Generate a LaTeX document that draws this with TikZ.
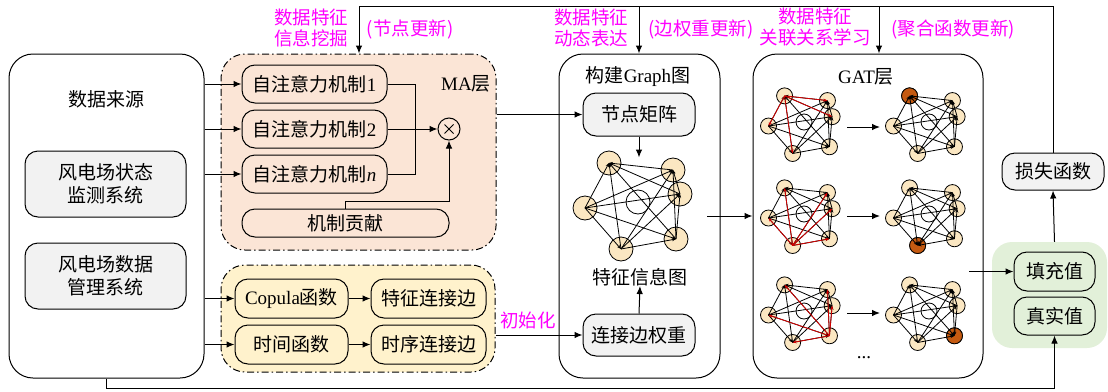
\documentclass[tikz,border=0pt]{standalone}
\usepackage{fontspec}
\setmainfont{Liberation Serif}
\newfontfamily\cjk{Noto Sans CJK SC}
\newfontfamily\lat{Liberation Serif}
\usetikzlibrary{arrows.meta}
\definecolor{peach}{HTML}{FBE5D6}
\definecolor{yel}{HTML}{FFF2CC}
\definecolor{grn}{HTML}{E2F0D9}
\definecolor{gry}{HTML}{F2F2F2}
\definecolor{cream}{HTML}{FBE7C2}
\definecolor{brn}{HTML}{C55A11}
\definecolor{redl}{HTML}{D40000}
\definecolor{mag}{HTML}{FF00FF}
\newcommand\txt{\cjk\fontsize{19}{23}\selectfont}
\newcommand\mtxt{\cjk\fontsize{18.5}{21}\selectfont}
\newcommand\mkgraph[4]{%
  \begin{scope}[shift={#2},scale=#3]
    \coordinate (#1-1) at (-29,-39);
    \coordinate (#1-2) at (35,-32);
    \coordinate (#1-3) at (42,-8);
    \coordinate (#1-4) at (38,37);
    \coordinate (#1-5) at (-17,47);
    \coordinate (#1-6) at (-53,6);
    \coordinate (#1-7) at (0,0);
  \end{scope}
  \foreach \k in {1,...,6} \draw[gnode] (#1-\k) circle[radius=#4];
  \draw[gnode,fill=white] (#1-7) circle[radius=#4];
}
\newcommand\mkedges[2]{%
  \foreach \i in {1,...,6}{\foreach \j in {1,...,6}{%
    \ifnum\i<\j
      \ifnum\j=#2 \draw[gedge] (#1-\i) -- (#1-\j);
      \else \draw[gedge] (#1-\j) -- (#1-\i); \fi
    \fi}}%
}
\newcommand\mkred[3]{%
  \foreach \k in {#3} \draw[gedge,draw=redl,fill=redl] (#1-#2) -- (#1-\k);
}
\begin{document}
\begin{tikzpicture}[x=1pt,y=-1pt,
  rb/.style={draw,line width=1pt,rounded corners=13pt,inner sep=0pt,align=center,font=\txt},
  bg/.style={rounded corners=24pt,inner sep=0pt},
  dd/.style={draw,line width=1pt,dash pattern=on 7pt off 3pt on 1.5pt off 3pt},
  lbl/.style={font=\txt,inner sep=0pt,align=center},
  magl/.style={font=\mtxt,text=mag,inner sep=0pt,align=center},
  ln/.style={line width=1pt},
  arr/.style={line width=1pt,-{Latex[length=8pt,width=6.5pt]}},
  gnode/.style={draw,line width=0.8pt,fill=cream},
  gedge/.style={line width=0.8pt,-{Stealth[length=4pt,width=3pt]}}]
\useasboundingbox (0,0) rectangle (1108,391);

% ---------- source box ----------
\node[draw,line width=1pt,bg,minimum width=195pt,minimum height=324pt] (src) at (106.5,216) {};
\node[lbl] (srct) at (106,99) {数据来源};
\node[rb,fill=gry,minimum width=161pt,minimum height=66pt] (sys1) at (105.5,184) {风电场状态\\监测系统};
\node[rb,fill=gry,minimum width=161pt,minimum height=66pt] (sys2) at (105.5,276) {风电场数据\\管理系统};

% ---------- MA layer ----------
\node[bg,fill=peach,dd,minimum width=275pt,minimum height=196pt] (ma) at (358.5,152) {};
\node[rb,fill=peach,minimum width=145pt,minimum height=38pt] (sa1) at (314.5,84) {自注意力机制{\lat 1}};
\node[rb,fill=peach,minimum width=145pt,minimum height=38pt] (sa2) at (314.5,129) {自注意力机制{\lat 2}};
\node[rb,fill=peach,minimum width=145pt,minimum height=38pt] (san) at (314.5,174) {自注意力机制{\lat\itshape n}};
\node[rb,fill=peach,minimum width=207pt,minimum height=28pt] (mc) at (345.5,223) {机制贡献};
\node[draw,circle,line width=1pt,minimum size=22pt,inner sep=0pt,fill=peach] (ot) at (449,129) {};
\draw[line width=0.9pt] ([shift={(-4.5,-4.5)}]ot.center) -- ([shift={(4.5,4.5)}]ot.center)
  ([shift={(-4.5,4.5)}]ot.center) -- ([shift={(4.5,-4.5)}]ot.center);
\node[lbl] (mat) at (466,84) {{\lat MA}层};

% ---------- init layer ----------
\node[bg,fill=yel,dd,minimum width=274pt,minimum height=107pt] (yb) at (358,318.5) {};
\node[rb,fill=yel,minimum width=113pt,minimum height=39pt] (cop) at (291.5,298.5) {{\lat Copula}函数};
\node[rb,fill=yel,minimum width=115pt,minimum height=39pt] (fe) at (428.5,298.5) {特征连接边};
\node[rb,fill=yel,minimum width=113pt,minimum height=39pt] (tf) at (291.5,344.5) {时间函数};
\node[rb,fill=yel,minimum width=115pt,minimum height=39pt] (se) at (428.5,344.5) {时序连接边};

% ---------- graph box ----------
\node[draw,line width=1pt,bg,minimum width=161pt,minimum height=324pt] (gb) at (639.5,216) {};
\node[lbl] (gbt) at (638,77) {构建{\lat Graph}图};
\node[rb,fill=gry,minimum width=112pt,minimum height=43pt] (nm) at (639,114.5) {节点矩阵};
\node[lbl] (fig) at (640,277) {特征信息图};
\node[rb,fill=gry,minimum width=112pt,minimum height=42pt] (ew) at (639,335) {连接边权重};
\mkgraph{g0}{(638,202)}{1}{12}
\mkedges{g0}{0}

% ---------- GAT box ----------
\node[draw,line width=1pt,bg,minimum width=230pt,minimum height=324pt] (gat) at (868,216) {};
\node[lbl] (gatt) at (866,77) {{\lat GAT}层};
\mkgraph{a1}{(804,122)}{0.67}{8}
\mkedges{a1}{0}
\mkred{a1}{1}{2,3,5,6}
\mkgraph{a2}{(929,122)}{0.67}{8}
\draw[gnode,fill=brn] (a2-1) circle[radius=8];
\mkedges{a2}{1}
\mkgraph{b1}{(804,214)}{0.67}{8}
\mkedges{b1}{0}
\mkred{b1}{5}{1,2,3,4,6}
\mkgraph{b2}{(929,214)}{0.67}{8}
\draw[gnode,fill=brn] (b2-5) circle[radius=8];
\mkedges{b2}{5}
\mkgraph{c1}{(804,311)}{0.67}{8}
\mkedges{c1}{0}
\mkred{c1}{4}{1,2,3,5,6}
\mkgraph{c2}{(929,311)}{0.67}{8}
\draw[gnode,fill=brn] (c2-4) circle[radius=8];
\mkedges{c2}{4}
\coordinate (r1s) at (847,127); \coordinate (r1e) at (880,127);
\coordinate (r2s) at (847,216); \coordinate (r2e) at (880,216);
\coordinate (r3s) at (847,313); \coordinate (r3e) at (880,313);
\draw[arr] (r1s) -- (r1e);
\draw[arr] (r2s) -- (r2e);
\draw[arr] (r3s) -- (r3e);
\node[font=\lat\fontsize{19}{23}\selectfont,inner sep=0pt] (dots) at (864,358) {...};

% ---------- output ----------
\node[bg,fill=grn,rounded corners=20pt,minimum width=115pt,minimum height=106pt] (gr) at (1049.5,295) {};
\node[rb,fill=grn,minimum width=81pt,minimum height=39pt] (fv) at (1054.5,271.5) {填充值};
\node[rb,fill=grn,minimum width=81pt,minimum height=38pt] (tv) at (1054.5,316) {真实值};
\node[rb,fill=gry,minimum width=102pt,minimum height=37pt] (loss) at (1053,171.5) {损失函数};

% ---------- magenta labels ----------
\node[magl] (m1) at (311,27.5) {数据特征\\信息挖掘};
\node[magl] (m1b) at (410,30) {(节点更新)};
\node[magl] (m2) at (591,27.5) {数据特征\\动态表达};
\node[magl] (m2b) at (701,30) {(边权重更新)};
\node[magl] (m3) at (815,27.5) {数据特征\\关联关系学习};
\node[magl] (m3b) at (953,30) {(聚合函数更新)};
\node[magl] (init) at (528,320) {初始化};

% ---------- connectors ----------
\draw[arr] (src.east |- sa1) -- (sa1.west);
\draw[arr] (src.east |- sa2) -- (sa2.west);
\draw[arr] (src.east |- san) -- (san.west);
\draw[arr] (src.east |- cop) -- (cop.west);
\draw[arr] (src.east |- tf) -- (tf.west);
\draw[ln] (sa1.east) -- ++(28,0) |- (san.east);
\draw[arr] (sa2.east) -- (ot.west);
\draw[arr] (mc.north) -- ++(0,-7) -| (ot.south);
\draw[arr] (cop.east) -- (fe.west);
\draw[arr] (tf.east) -- (se.west);
\draw[arr] (ma.east |- nm.west) -- (nm.west);
\draw[arr] (yb.east |- ew.west) -- (ew.west);
\draw[arr] (nm.south) -- ++(0,21);
\draw[arr] (ew.north) -- (fig.south);
\coordinate (gout) at (707,216);
\draw[arr] (gout) -- (gat.west |- gout);
\coordinate (gatout) at (969,271.5);
\draw[arr] (gatout) -- (fv.west);
\draw[arr] (fv.north |- gr.north) -- (loss.south);
\coordinate (top) at (359,6);
\coordinate (topg) at (639,6);
\coordinate (topa) at (879,6);
\draw[ln] (loss.north) -- (loss.north |- top) -- (top);
\draw[arr] (top) -- (top |- ma.north);
\draw[arr] (topg) -- (topg |- gb.north);
\draw[arr] (topa) -- (topa |- gat.north);
\draw[arr] (src.south) -- ++(0,10) -| (tv.south);
\end{tikzpicture}
\end{document}
